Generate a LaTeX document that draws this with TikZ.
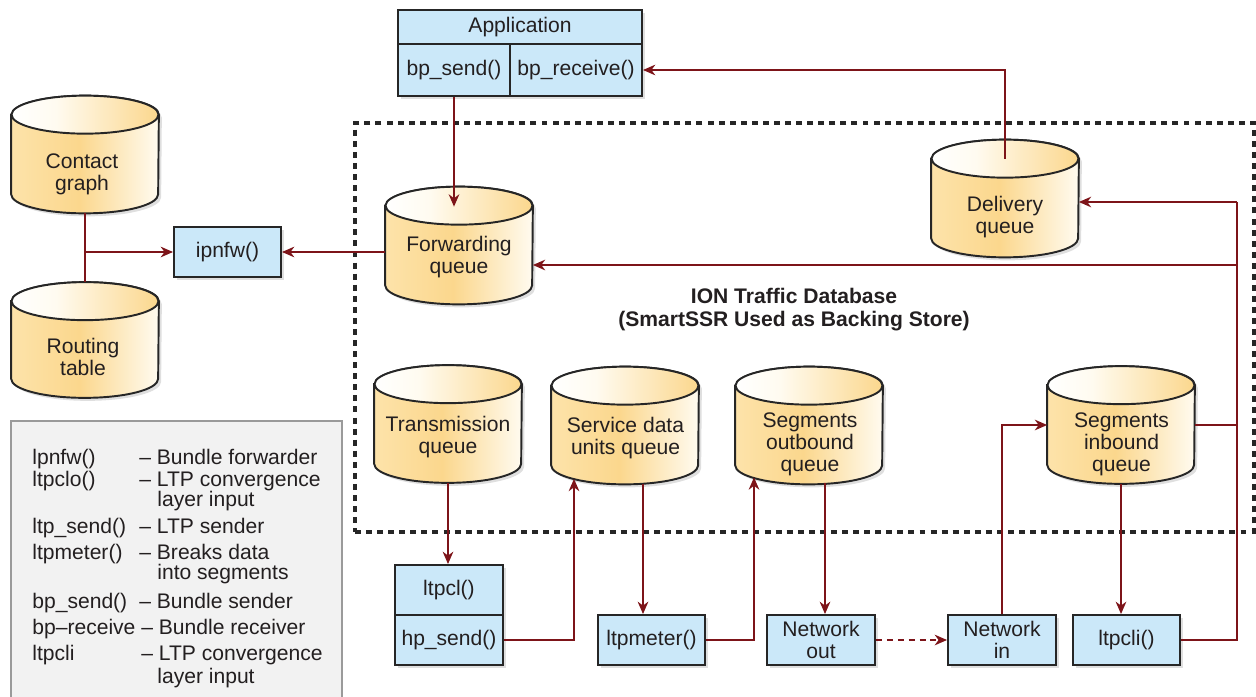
\documentclass[tikz,border=0pt]{standalone}
\usepackage{fontspec}
\setmainfont{Liberation Sans}
\usetikzlibrary{arrows.meta,shadows,backgrounds,calc}

% one unit of the drawing grid
\newdimen\pxu \pxu=0.02cm

\definecolor{boxblue}{HTML}{CBE8F9}
\definecolor{linkred}{HTML}{7D1419}
\definecolor{edge}{HTML}{262626}
\definecolor{ink}{HTML}{231F20}
\definecolor{cylA}{HTML}{FDE3AA}
\definecolor{cylB}{HTML}{FBD78D}
\definecolor{cylC}{HTML}{FFFBF0}
\definecolor{legendfill}{HTML}{F2F2F2}
\definecolor{legendedge}{HTML}{9A9A9A}

\pgfdeclarehorizontalshading{cylbody}{100bp}{color(0bp)=(cylA); color(25bp)=(cylA); color(48bp)=(cylB); color(75bp)=(cylC); color(100bp)=(cylC)}
\pgfdeclarehorizontalshading{cyltop}{100bp}{color(0bp)=(white); color(25bp)=(white); color(40bp)=(cylC); color(75bp)=(cylB); color(100bp)=(cylB)}

\tikzset{
  softshadow/.style={drop shadow={opacity=0.25, shadow xshift=1.7pt, shadow yshift=-1.7pt}},
  box/.style={draw=edge, line width=1.1pt, fill=boxblue, inner sep=0pt, align=center,
    text=ink, softshadow},
  cylnode/.style={inner sep=0pt, minimum width=147\pxu, minimum height=117\pxu},
  cyltext/.style={align=center, text=ink, inner sep=0pt},
  cylbodystyle/.style={draw=edge, line width=1.1pt, shade, shading=cylbody, softshadow},
  cyltopstyle/.style={draw=edge, line width=1.1pt, shade, shading=cyltop},
  link/.style={draw=linkred, line width=1.15pt, -{Stealth[length=7pt,width=6pt,inset=2.2pt]}},
  plainlink/.style={draw=linkred, line width=1.15pt},
  netlink/.style={link, dash pattern=on 3.4pt off 2.8pt},
  dbframe/.style={draw=edge, line width=1.8pt, dash pattern=on 3.4pt off 2.9pt, inner sep=0pt},
  legendbox/.style={draw=legendedge, line width=1pt, fill=legendfill, inner sep=0pt},
  legendtext/.style={anchor=base west, inner sep=0pt, text=ink},
  every node/.style={font=\fontsize{12pt}{12.6pt}\selectfont},
}

% database drum drawn around a cylinder node
\newcommand\drum[1]{%
  \path[cylbodystyle] ([yshift=-19\pxu]#1.north west) -- ([yshift=19\pxu]#1.south west)
    arc[start angle=180, end angle=360, x radius=73.5\pxu, y radius=19\pxu]
    -- ([yshift=-19\pxu]#1.north east)
    arc[start angle=0, end angle=180, x radius=73.5\pxu, y radius=19\pxu] -- cycle;
  \path[cyltopstyle] ([yshift=-19\pxu]#1.north) ellipse[x radius=73.5\pxu, y radius=19\pxu];
}

\begin{document}
\begin{tikzpicture}[x=0.02cm, y=-0.02cm]
\useasboundingbox (0,0) rectangle (1256,696);

% ION traffic database frame
\node[dbframe, minimum width=899\pxu, minimum height=409\pxu] (db) at (804.5,327.5) {};
\node[font=\fontsize{12pt}{13pt}\selectfont\bfseries, align=center, text=ink] (dbtitle) at (794,310)
  {ION Traffic Database\\(SmartSSR Used as Backing Store)};

% application
\node[box, minimum width=244\pxu, minimum height=34\pxu] (app) at (520,27) {Application};
\node[box, minimum width=112\pxu, minimum height=52\pxu] (bpsend) at (454,70) {bp\_send()};
\node[box, minimum width=132\pxu, minimum height=52\pxu] (bprecv) at (576,70) {bp\_receive()};

% routing side
\node[box, minimum width=107\pxu, minimum height=50\pxu] (ipnfw) at (227.5,252) {ipnfw()};

% lower process boxes
\node[box, minimum width=108\pxu, minimum height=50\pxu] (ltpcl) at (449,590) {ltpcl()};
\node[box, minimum width=108\pxu, minimum height=50\pxu] (hpsend) at (449,640) {hp\_send()};
\node[box, minimum width=107\pxu, minimum height=50\pxu] (ltpmeter) at (651.5,640) {ltpmeter()};
\node[box, minimum width=108\pxu, minimum height=50\pxu] (netout) at (821,640) {Network\\out};
\node[box, minimum width=108\pxu, minimum height=50\pxu] (netin) at (1002,640) {Network\\in};
\node[box, minimum width=107\pxu, minimum height=50\pxu] (ltpcli) at (1126.5,640) {ltpcli()};

% queues and tables
\node[cylnode] (cg) at (85,154.5) {};
\node[cylnode, minimum height=115\pxu] (rt) at (85,340) {};
\node[cylnode] (fq) at (459,245.5) {};
\node[cylnode] (dq) at (1005,198.5) {};
\node[cylnode] (tq) at (448,424) {};
\node[cylnode] (sdu) at (625,425.5) {};
\node[cylnode] (sob) at (809,425.5) {};
\node[cylnode] (sib) at (1121,425) {};

\begin{pgfonlayer}{background}
  \foreach \n in {cg,rt,fq,dq,tq,sdu,sob,sib} {\drum{\n}}
\end{pgfonlayer}

\node[cyltext] (cg-t) at (82,174) {Contact\\graph};
\node[cyltext] (rt-t) at (83,357) {Routing\\table};
\node[cyltext] (fq-t) at (459,257) {Forwarding\\queue};
\node[cyltext] (dq-t) at (1005,217) {Delivery\\queue};
\node[cyltext] (tq-t) at (448,437) {Transmission\\queue};
\node[cyltext] (sdu-t) at (625.5,438) {Service data\\units queue};
\node[cyltext] (sob-t) at (810,444) {Segments\\outbound\\queue};
\node[cyltext] (sib-t) at (1121.5,444) {Segments\\inbound\\queue};

% connectors
\draw[plainlink] (cg.south) -- (rt.north);
\draw[link] (cg.south |- ipnfw.west) -- (ipnfw.west);
\draw[link] (ipnfw.east -| fq.west) -- (ipnfw.east);
\draw[link] (bpsend.south) -- ($(bpsend.south |- fq.north)+(0,20)$);
\draw[link] ($(dq.north)+(0,19)$) |- (bprecv.east);

\coordinate (rx) at (1237,202);
\coordinate (fqin) at ($(fq.east)+(0,19.5)$);
\draw[plainlink] (ltpcli.east) -| (rx);
\draw[link] (rx) -- (rx -| dq.east);
\draw[plainlink] (sib.east) -- (sib.east -| rx);
\draw[link] (fqin -| rx) -- (fqin);

\draw[link] (tq.south) -- (tq.south |- ltpcl.north);
\draw[link] (hpsend.east) -| ($(sdu.south)+(-51,-5.5)$);
\coordinate (sdu-out) at ($(sdu.south)+(18,-0.5)$);
\draw[link] (sdu-out) -- (sdu-out |- ltpmeter.north);
\draw[link] (ltpmeter.east) -| ($(sob.south)+(-55,-7)$);
\coordinate (sob-out) at ($(sob.south)+(16,-1)$);
\draw[link] (sob-out) -- (sob-out |- netout.north);
\draw[netlink] (netout.east) -- (netin.west);
\draw[link] (netin.north) |- (sib.west);
\draw[link] (sib.south) -- (sib.south |- ltpcli.north);

% legend
\node[legendbox, minimum width=331\pxu, minimum height=290\pxu, anchor=north west] (legend) at (10,420) {};
\node[legendtext] (k1) at (32,464) {lpnfw()};
\node[legendtext] (d1) at (139,464) {– Bundle forwarder};
\node[legendtext] (k2) at (32,486) {ltpclo()};
\node[legendtext] (d2) at (139,486) {– LTP convergence};
\node[legendtext] (d2b) at (157,506) {layer input};
\node[legendtext] (k3) at (32,533) {ltp\_send()};
\node[legendtext] (d3) at (139,533) {– LTP sender};
\node[legendtext] (k4) at (32,559) {ltpmeter()};
\node[legendtext] (d4) at (139,559) {– Breaks data};
\node[legendtext] (d4b) at (157,579) {into segments};
\node[legendtext] (k5) at (32,608) {bp\_send()};
\node[legendtext] (d5) at (139,608) {– Bundle sender};
\node[legendtext] (k6) at (32,634) {bp–receive};
\node[legendtext] (d6) at (141,634) {– Bundle receiver};
\node[legendtext] (k7) at (32,660) {ltpcli};
\node[legendtext] (d7) at (141,660) {– LTP convergence};
\node[legendtext] (d7b) at (157,683) {layer input};
\end{tikzpicture}
\end{document}
